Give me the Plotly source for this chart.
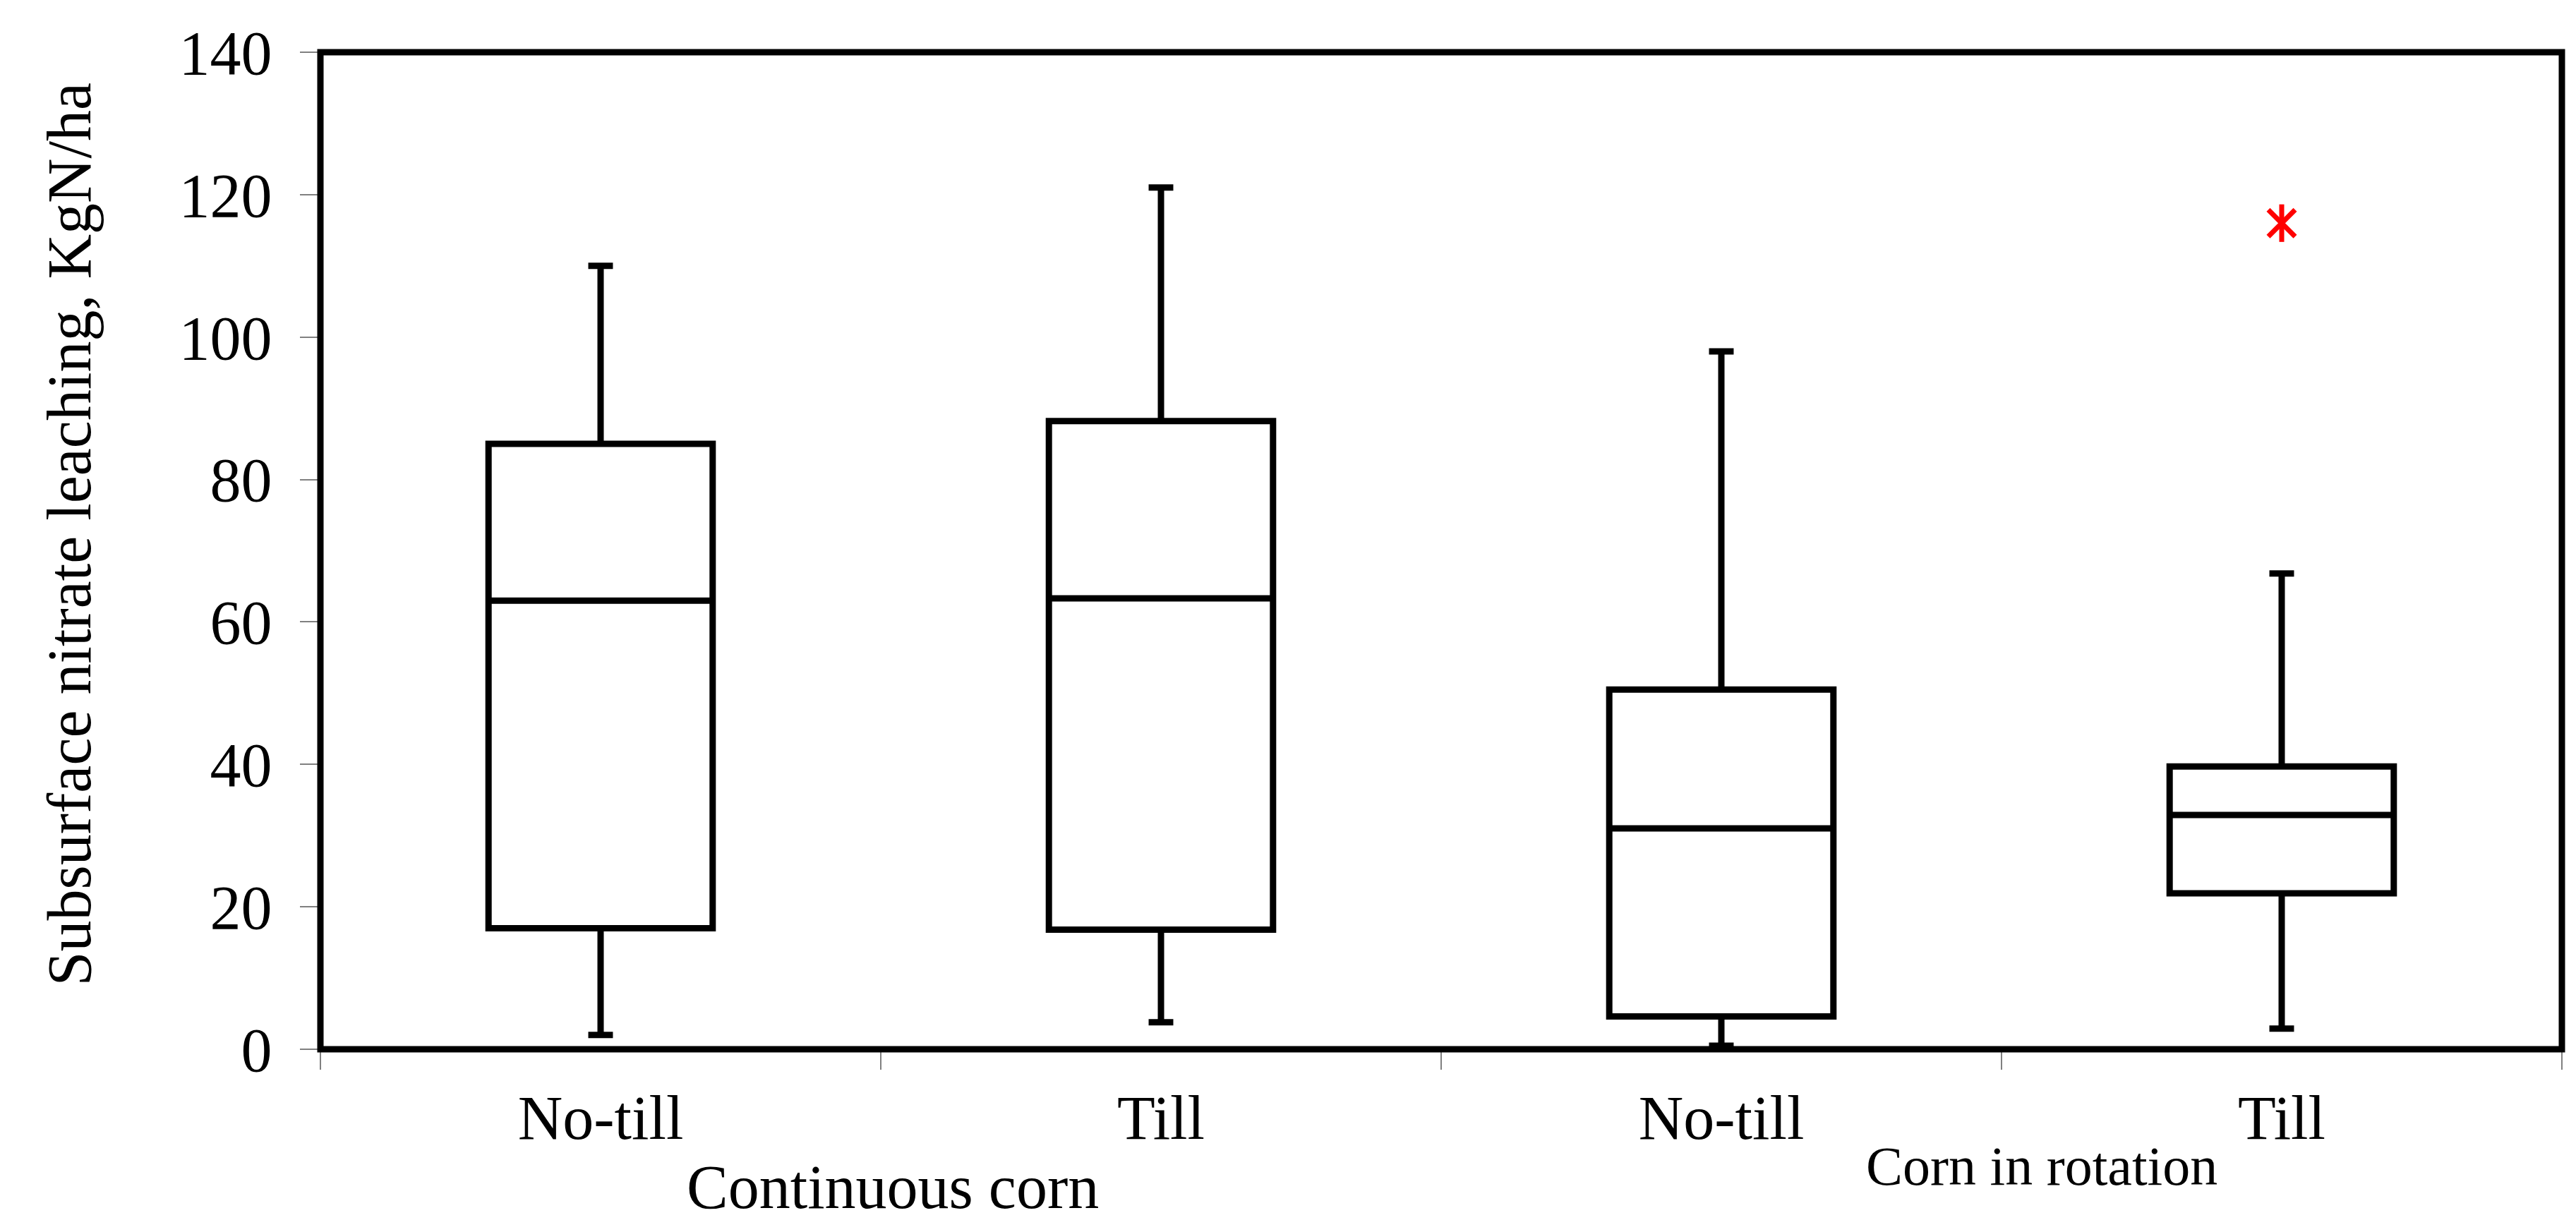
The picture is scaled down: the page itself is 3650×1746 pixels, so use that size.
import plotly.graph_objects as go

# ---- data ----
cat_ids = ["CC No-till", "CC Till", "CR No-till", "CR Till"]
tick_labels = ["No-till", "Till", "No-till", "Till"]
group_labels = ["Continuous corn", "Corn in rotation"]

q1 = [17.0, 16.8, 4.6, 21.9]
median = [63.0, 63.3, 31.0, 32.9]
q3 = [85.0, 88.2, 50.5, 39.7]
lowerfence = [2.0, 3.8, 0.5, 2.9]
upperfence = [110.0, 121.0, 98.0, 66.8]

outlier_x = ["CR Till"]
outlier_y = [116.0]

y_title = "Subsurface nitrate leaching, KgN/ha"

FONT = "Liberation Serif, Times New Roman, serif"

fig = go.Figure()

fig.add_trace(go.Box(
    x=cat_ids, q1=q1, median=median, q3=q3,
    lowerfence=lowerfence, upperfence=upperfence,
    width=0.4, whiskerwidth=0.11,
    line=dict(color="black", width=9),
    fillcolor="white", boxpoints=False, showlegend=False,
))

# outlier: six-armed asterisk (X plus vertical bar)
for sym in ["x-thin-open", "line-ns-open"]:
    fig.add_trace(go.Scatter(
        x=outlier_x, y=outlier_y, mode="markers", showlegend=False,
        marker=dict(symbol=sym, size=38, color="red",
                    line=dict(color="red", width=7)),
    ))

fig.update_layout(
    width=3650, height=1746,
    margin=dict(l=446, r=28, t=66, b=267),
    paper_bgcolor="white", plot_bgcolor="white",
    font=dict(family=FONT, color="black"),
    xaxis=dict(
        type="category", categoryorder="array", categoryarray=cat_ids,
        tickmode="array", tickvals=cat_ids, ticktext=tick_labels,
        tickson="boundaries", ticks="outside", ticklen=28, tickwidth=2,
        tickcolor="#808080", showgrid=False, showline=False, zeroline=False,
        tickfont=dict(family=FONT, size=88, color="black"),
        ticklabelstandoff=38, range=[-0.5, 3.5],
    ),
    yaxis=dict(
        range=[0, 140], tick0=0, dtick=20,
        ticks="outside", ticklen=28, tickwidth=2, tickcolor="#808080",
        showgrid=False, showline=False, zeroline=False,
        tickfont=dict(family=FONT, size=88, color="black"),
        ticklabelstandoff=22,
    ),
    shapes=[dict(type="rect", xref="paper", yref="paper", x0=0, x1=1, y0=0, y1=1,
                 line=dict(color="black", width=9), layer="above")],
    annotations=[
        dict(text=y_title, xref="paper", yref="paper", x=-0.1121, y=0.5163,
             xanchor="center", yanchor="middle", textangle=-90, showarrow=False,
             font=dict(family=FONT, size=88, color="black")),
        dict(text=group_labels[0], xref="paper", yref="paper", x=0.2554, y=-0.1385,
             xanchor="center", yanchor="middle", showarrow=False,
             font=dict(family=FONT, size=88, color="black")),
        dict(text=group_labels[1], xref="paper", yref="paper", x=0.768, y=-0.117,
             xanchor="center", yanchor="middle", showarrow=False,
             font=dict(family=FONT, size=78, color="black")),
    ],
)

fig.write_html("out.html")
